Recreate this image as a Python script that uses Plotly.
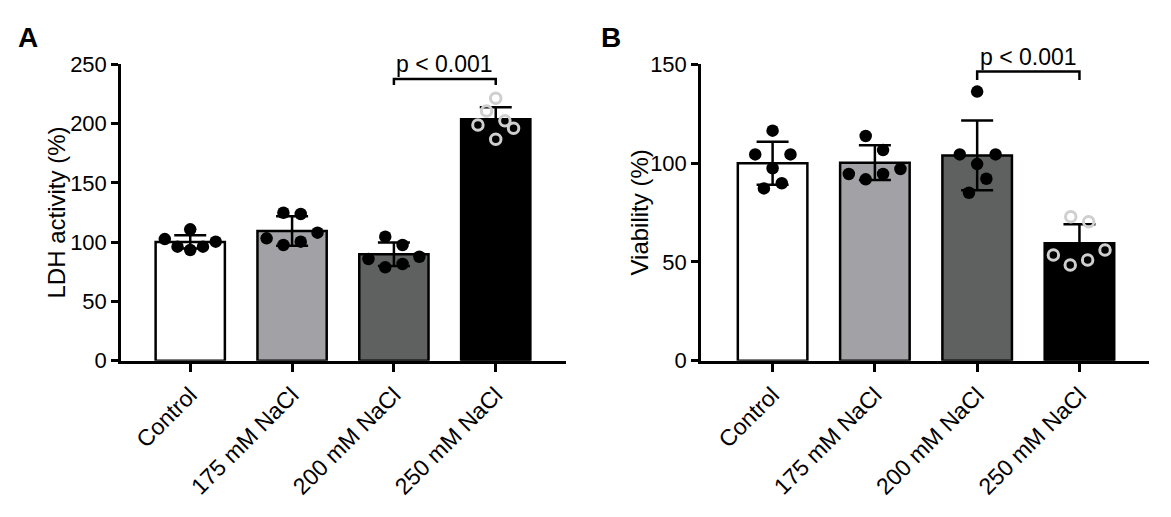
import plotly.graph_objects as go

groups = ["Control", "175 mM NaCl", "200 mM NaCl", "250 mM NaCl"]
bar_colors = ["#ffffff", "#a2a2a6", "#5f6060", "#000000"]

# panel A - LDH activity (%)
ldh_mean = [100.2, 109.4, 89.8, 203.6]
ldh_sd = [5.6, 12.4, 9.9, 10.1]
ldh_points = [
    [102.6, 96.2, 110.8, 93.4, 96.2, 100.4],
    [103.2, 124.8, 97.6, 123.7, 100.4, 108.0],
    [85.8, 104.6, 78.8, 97.6, 81.6, 87.7],
    [198.8, 210.6, 221.3, 186.7, 202.4, 196.0],
]
ldh_jitter = [
    [-0.25, -0.125, 0, 0, 0.125, 0.25],
    [-0.25, -0.085, -0.085, 0.085, 0.085, 0.25],
    [-0.25, -0.085, -0.085, 0.085, 0.085, 0.25],
    [-0.175, -0.09, 0, 0, 0.09, 0.175],
]
ldh_ticks = [0, 50, 100, 150, 200, 250]

# panel B - viability (%)
via_mean = [99.9, 100.2, 103.9, 59.4]
via_sd = [10.9, 8.8, 17.7, 9.6]
via_points = [
    [104.4, 116.4, 97.4, 104.4, 87.2, 89.8],
    [94.5, 113.7, 91.8, 106.6, 94.5, 97.0],
    [104.4, 136.2, 99.5, 104.4, 85.0, 92.1],
    [72.9, 70.3, 53.5, 48.4, 51.0, 56.0],
]
via_jitter = [
    [-0.17, 0, 0, 0.175, -0.085, 0.09],
    [-0.255, -0.09, -0.09, 0.08, 0.08, 0.25],
    [-0.17, 0, 0, 0.18, -0.08, 0.09],
    [-0.085, 0.09, -0.255, -0.09, 0.08, 0.25],
]
via_ticks = [0, 50, 100, 150]

# significance: (group a, group b, bracket height, tail length)
ldh_sig = [2, 3, 237.6, 5.0]
via_sig = [2, 3, 146.3, 4.2]
p_text = "p < 0.001"

FONT = "Liberation Sans, Arial, sans-serif"
OFF = 8  # page body margin
W, H = 1171 - OFF, 517 - OFF


def px_x(p):
    return (p - OFF) / W


def px_y(p):
    return (H - (p - OFF)) / H


fig = go.Figure()


def add_panel(fig, means, sds, points, jitter, sig, xa, ya):
    idx = list(range(len(groups)))
    fig.add_trace(go.Bar(
        x=idx, y=means, width=0.68,
        marker=dict(color=bar_colors, line=dict(color="black", width=2.5)),
        error_y=dict(type="data", array=sds, visible=True, color="black",
                     thickness=2.5, width=16),
        xaxis=xa, yaxis=ya, showlegend=False, hoverinfo="skip",
    ))
    for i, (vals, offs) in enumerate(zip(points, jitter)):
        xs = [i + o for o in offs]
        if i == len(groups) - 1:
            marker = dict(symbol="circle-open", size=10.5, color="#cfcfcf",
                          line=dict(width=3, color="#cfcfcf"))
        else:
            marker = dict(symbol="circle", size=12.5, color="black",
                          line=dict(width=0))
        fig.add_trace(go.Scatter(x=xs, y=vals, mode="markers", marker=marker,
                                 xaxis=xa, yaxis=ya, showlegend=False,
                                 hoverinfo="skip", cliponaxis=False))
    a, b, h, tail = sig
    fig.add_trace(go.Scatter(
        x=[a, a, b, b], y=[h - tail, h, h, h - tail], mode="lines",
        line=dict(color="black", width=2.5), xaxis=xa, yaxis=ya,
        showlegend=False, hoverinfo="skip", cliponaxis=False,
    ))
    fig.add_annotation(x=(a + b) / 2, y=h, xref=xa, yref=ya, text=p_text,
                       showarrow=False, yanchor="bottom", yshift=0,
                       font=dict(family=FONT, size=23, color="black"))


add_panel(fig, ldh_mean, ldh_sd, ldh_points, ldh_jitter, ldh_sig, "x", "y")
add_panel(fig, via_mean, via_sd, via_points, via_jitter, via_sig, "x2", "y2")

xcommon = dict(
    tickvals=list(range(len(groups))), ticktext=groups, tickangle=-45,
    showline=True, linecolor="black", linewidth=2.5, ticks="outside",
    ticklen=9, tickwidth=2.5, tickcolor="black", showgrid=False,
    zeroline=False, automargin=False,
    tickfont=dict(family=FONT, size=23, color="black"),
)
ycommon = dict(
    showline=True, linecolor="black", linewidth=2.5, ticks="outside",
    ticklen=7, tickwidth=2.5, tickcolor="black", showgrid=False,
    zeroline=False, automargin=False,
    tickfont=dict(family=FONT, size=22, color="black"),
)

ydom = [px_y(360.7), px_y(64.3)]
fig.update_layout(
    width=W, height=H,
    margin=dict(l=0, r=0, t=0, b=0),
    paper_bgcolor="white", plot_bgcolor="white",
    xaxis=dict(xcommon, domain=[px_x(121), px_x(566)], range=[-0.68, 3.69],
               anchor="y"),
    yaxis=dict(ycommon, domain=ydom, range=[0, 250], tickvals=ldh_ticks,
               anchor="x"),
    xaxis2=dict(xcommon, domain=[px_x(701), px_x(1149)], range=[-0.70, 3.68],
                anchor="y2"),
    yaxis2=dict(ycommon, domain=ydom, range=[0, 150], tickvals=via_ticks,
                anchor="x2"),
)

# axis titles and panel letters
for xpx, text in [(56, "LDH activity (%)"), (639, "Viability (%)")]:
    fig.add_annotation(x=px_x(xpx), y=px_y(212.5), xref="paper", yref="paper",
                       text=text, textangle=-90, showarrow=False,
                       xanchor="center", yanchor="middle",
                       font=dict(family=FONT, size=24, color="black"))
for xpx, text in [(16, "A"), (599, "B")]:
    fig.add_annotation(x=px_x(xpx), y=px_y(38), xref="paper", yref="paper",
                       text="<b>%s</b>" % text, showarrow=False,
                       xanchor="left", yanchor="middle",
                       font=dict(family=FONT, size=28, color="black"))

fig.write_html("out.html")
